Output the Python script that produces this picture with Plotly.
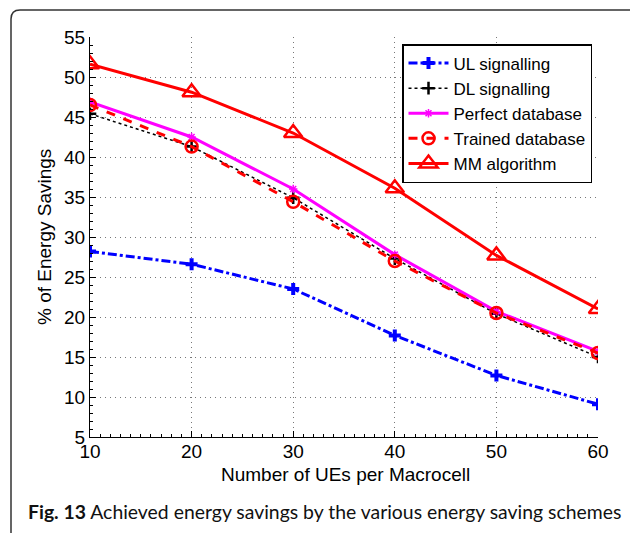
import plotly.graph_objects as go

ues = [10, 20, 30, 40, 50, 60]
ul_signalling = [28.2, 26.6, 23.5, 17.7, 12.7, 9.1]
dl_signalling = [45.4, 41.3, 34.9, 27.3, 20.4, 15.0]
perfect_db = [46.9, 42.5, 36.0, 27.8, 20.7, 15.7]
trained_db = [46.5, 41.3, 34.4, 27.0, 20.5, 15.5]
mm_algorithm = [51.6, 48.1, 43.0, 36.1, 27.7, 21.0]

x_ticks = [10, 20, 30, 40, 50, 60]
y_ticks = [5, 10, 15, 20, 25, 30, 35, 40, 45, 50, 55]

FONT = "Liberation Sans, Arial, sans-serif"
FS = 19

fig = go.Figure()
fig.add_trace(go.Scatter(x=ues, y=ul_signalling, name="UL signalling", mode="lines+markers",
                         line=dict(color="#0000ff", width=3, dash="dashdot"),
                         marker=dict(symbol="cross", size=10, color="#0000ff")))
fig.add_trace(go.Scatter(x=ues, y=dl_signalling, name="DL signalling", mode="lines+markers",
                         line=dict(color="#000000", width=1.5, dash="dot"),
                         marker=dict(symbol="cross-thin", size=9, color="#000000",
                                     line=dict(color="#000000", width=2.5))))
fig.add_trace(go.Scatter(x=ues, y=perfect_db, name="Perfect database", mode="lines+markers",
                         line=dict(color="#ff00ff", width=3),
                         marker=dict(symbol="asterisk", size=7, color="#ff00ff",
                                     line=dict(color="#ff00ff", width=1.5))))
fig.add_trace(go.Scatter(x=ues, y=trained_db, name="Trained database", mode="lines+markers",
                         line=dict(color="#ff0000", width=3, dash="dash"),
                         marker=dict(symbol="circle-open", size=12, color="#ff0000",
                                     line=dict(color="#ff0000", width=2.5))))
fig.add_trace(go.Scatter(x=ues, y=mm_algorithm, name="MM algorithm", mode="lines+markers",
                         line=dict(color="#ff0000", width=3),
                         marker=dict(symbol="triangle-up-open", size=16, color="#ff0000",
                                     line=dict(color="#ff0000", width=2.5))))

axis_common = dict(
    showline=True, linecolor="black", linewidth=1, mirror=False,
    ticks="inside", ticklen=6, tickcolor="black",
    showgrid=True, gridcolor="#777777", griddash="1px,4px", gridwidth=1,
    zeroline=False, tickfont=dict(family=FONT, size=FS, color="black"),
)

fig.update_xaxes(range=[10, 60], tickvals=x_ticks, ticklabelstandoff=-3,
                 minor=dict(dtick=1, ticks="inside", ticklen=3, tickcolor="black", showgrid=False),
                 **axis_common)
fig.update_yaxes(range=[5, 55], tickvals=y_ticks,
                 minor=dict(dtick=1, ticks="inside", ticklen=3, tickcolor="black", showgrid=False),
                 **axis_common)

W, H = 630, 533
L, R, T, B = 90, 32, 37, 96
pw, ph = W - L - R, H - T - B

def px(xpix):
    return (xpix - L) / pw

def py(ypix):
    return (H - B - ypix) / ph

x0, ytop = px(11), py(10)
xr, ybot = px(660), py(560)
rx, ry = 9 / pw, 9 / ph
path = f"M {x0},{ybot} L {x0},{ytop - ry} Q {x0},{ytop} {x0 + rx},{ytop} L {xr},{ytop}"

fig.update_layout(
    width=W, height=H,
    margin=dict(l=L, r=R, t=T, b=B),
    paper_bgcolor="white", plot_bgcolor="white",
    font=dict(family=FONT, size=FS, color="black"),
    showlegend=True,
    legend=dict(x=px(592), y=py(44), xanchor="right", yanchor="top",
                bgcolor="white", bordercolor="black", borderwidth=1.5,
                font=dict(family=FONT, size=17, color="black"),
                tracegroupgap=0, itemwidth=40),
    shapes=[dict(type="path", xref="paper", yref="paper", path=path,
                 line=dict(color="#333333", width=1.5), layer="above")],
    annotations=[
        dict(text="Number of UEs per Macrocell", xref="paper", yref="paper",
             x=px(345), y=py(474), xanchor="center", yanchor="middle", showarrow=False,
             font=dict(family=FONT, size=FS, color="black")),
        dict(text="% of Energy Savings", xref="paper", yref="paper",
             x=px(44), y=py(237), xanchor="center", yanchor="middle", showarrow=False,
             textangle=-90, font=dict(family=FONT, size=FS, color="black")),
        dict(text="<b>Fig. 13</b> Achieved energy savings by the various energy saving schemes",
             xref="paper", yref="paper", x=px(26), y=py(511), xanchor="left", yanchor="middle",
             showarrow=False, font=dict(family="Lato, Noto Sans, sans-serif", size=19.4, color="#111111")),
    ],
)

fig.write_html("out.html", config={"displayModeBar": False},
               post_script="document.body.style.margin='0';document.body.style.overflow='hidden';")
